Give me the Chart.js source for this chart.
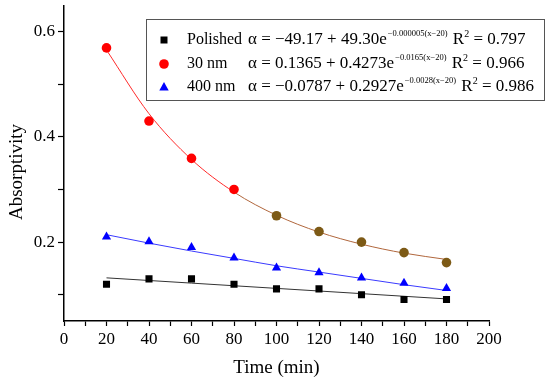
<!DOCTYPE html>
<html>
<head>
<meta charset="utf-8">
<script src="https://cdn.jsdelivr.net/npm/chart.js@4.4.1/dist/chart.umd.min.js"></script>
<style>
html, body { margin: 0; padding: 0; background: #fff; }
</style>
</head>
<body>
<canvas id="chart" width="550" height="383"></canvas>
<script>
// values
const times = [20, 40, 60, 80, 100, 120, 140, 160, 180];
const polished = [0.120, 0.130, 0.130, 0.120, 0.111, 0.111, 0.100, 0.091, 0.091];
const nm30 = [0.569, 0.430, 0.359, 0.300, 0.250, 0.220, 0.200, 0.180, 0.161];
const nm400 = [0.210, 0.201, 0.190, 0.170, 0.151, 0.142, 0.132, 0.122, 0.112];

// fitted curves at the same times
const polishedFit = [0.132, 0.127, 0.122, 0.117, 0.112, 0.107, 0.102, 0.097, 0.092];
const nm30Fit = [0.565, 0.444, 0.357, 0.295, 0.251, 0.219, 0.196, 0.179, 0.167];
const nm400Fit = [0.214, 0.198, 0.183, 0.169, 0.155, 0.143, 0.131, 0.119, 0.108];

const xTicks = [0, 10, 20, 30, 40, 50, 60, 70, 80, 90, 100, 110, 120, 130, 140, 150, 160, 170, 180, 190, 200];
const xLabels = [0, 20, 40, 60, 80, 100, 120, 140, 160, 180, 200];
const yTicks = [0.1, 0.2, 0.3, 0.4, 0.5, 0.6];
const yLabels = [0.2, 0.4, 0.6];

const seriesNames = ['Polished', '30 nm', '400 nm'];
const fitMain = ['\u03b1 = \u221249.17 + 49.30e', '\u03b1 = 0.1365 + 0.4273e', '\u03b1 = \u22120.0787 + 0.2927e'];
const fitExp = ['\u22120.000005(x\u221220)', '\u22120.0165(x\u221220)', '\u22120.0028(x\u221220)'];
const rSquared = ['0.797', '0.966', '0.986'];
const yTitle = 'Absorptivity';

const serif = "'Liberation Serif', 'Times New Roman', serif";

const pts = (ys) => times.map((t, i) => ({ x: t, y: ys[i] }));

// red points after 80 min look brownish in the picture
const redPointColors = nm30.map((v, i) => i < 4 ? '#ff0000' : '#7d5a16');

// legend drawn by hand because of the superscripts
const legendPlugin = {
    id: 'fitLegend',
    afterDraw(chart) {
        const ctx = chart.ctx;
        ctx.save();

        // y axis title sits a bit below the middle in the original
        ctx.translate(17, 172);
        ctx.rotate(-Math.PI / 2);
        ctx.fillStyle = '#000';
        ctx.font = '19px ' + serif;
        ctx.textAlign = 'center';
        ctx.textBaseline = 'middle';
        ctx.fillText(yTitle, 0, 0);
        ctx.setTransform(1, 0, 0, 1, 0, 0);
        ctx.textAlign = 'left';

        ctx.fillStyle = '#fff';
        ctx.fillRect(146, 19, 398, 81);
        ctx.strokeStyle = '#555';
        ctx.lineWidth = 1;
        ctx.strokeRect(146.5, 19.5, 398, 81);

        const rows = [40, 64, 87];
        const markers = ['rect', 'circle', 'triangle'];
        const colors = ['#000', '#ff0000', '#0000ff'];
        const big = '17px ' + serif;
        const small = '8.5px ' + serif;
        rows.forEach((y, i) => {
            drawMarker(ctx, markers[i], 164, y, colors[i]);
            ctx.fillStyle = '#000';
            ctx.font = '16px ' + serif;
            ctx.fillText(seriesNames[i], 187, y);
            ctx.font = big;
            let x = 248;
            ctx.fillText(fitMain[i], x, y);
            x += ctx.measureText(fitMain[i]).width;
            ctx.font = small;
            ctx.fillText(fitExp[i], x + 1, y - 6);
            x += ctx.measureText(fitExp[i]).width + 2;
            ctx.font = big;
            ctx.fillText(' R', x, y);
            x += ctx.measureText(' R').width;
            ctx.font = '10px ' + serif;
            ctx.fillText('2', x, y - 6);
            x += ctx.measureText('2').width;
            ctx.font = big;
            ctx.fillText(' = ' + rSquared[i], x, y);
        });
        ctx.restore();
    }
};

function drawMarker(ctx, style, x, y, color) {
    ctx.fillStyle = color;
    ctx.beginPath();
    if (style === 'rect') {
        ctx.rect(x - 3.5, y - 3.5, 7, 7);
    } else if (style === 'circle') {
        ctx.arc(x, y, 4.8, 0, Math.PI * 2);
    } else {
        ctx.moveTo(x, y - 5);
        ctx.lineTo(x + 4.7, y + 3.5);
        ctx.lineTo(x - 4.7, y + 3.5);
        ctx.closePath();
    }
    ctx.fill();
}

const fitLine = (ys, color, extra) => Object.assign({
    type: 'line',
    data: pts(ys),
    borderColor: color,
    borderWidth: 1,
    pointRadius: 0,
    cubicInterpolationMode: 'monotone',
    fill: false,
    order: 2
}, extra || {});

const scatterSet = (ys, style, color, radius) => ({
    type: 'scatter',
    data: pts(ys),
    pointStyle: style,
    pointRadius: radius,
    pointHoverRadius: radius,
    pointBackgroundColor: color,
    pointBorderColor: color,
    pointBorderWidth: 0,
    showLine: false,
    order: 1
});

new Chart(document.getElementById('chart'), {
    type: 'scatter',
    data: {
        datasets: [
            fitLine(polishedFit, '#333'),
            fitLine(nm30Fit, '#ff2a2a', {
                segment: { borderColor: c => c.p0DataIndex >= 3 ? '#b0663c' : '#ff2a2a' }
            }),
            fitLine(nm400Fit, '#3a3aff'),
            scatterSet(polished, 'rect', '#000', 5),
            scatterSet(nm30, 'circle', redPointColors, 4.8),
            scatterSet(nm400, 'triangle', '#0000ff', 5.3)
        ]
    },
    options: {
        responsive: false,
        animation: false,
        devicePixelRatio: 1,
        layout: { padding: { top: 5, right: 61, left: 0, bottom: 0 } },
        plugins: { legend: { display: false }, tooltip: { enabled: false } },
        scales: {
            x: {
                type: 'linear',
                min: 0,
                max: 200,
                afterBuildTicks: s => { s.ticks = xTicks.map(v => ({ value: v })); },
                afterFit: s => { s.height = 62; },
                ticks: {
                    autoSkip: false,
                    maxRotation: 0,
                    padding: 3,
                    color: '#000',
                    font: { family: serif, size: 17 },
                    callback: v => xLabels.includes(v) ? String(v) : ''
                },
                grid: { drawOnChartArea: false, tickLength: 5, tickColor: '#000', tickWidth: 1.2 },
                border: { color: '#000', width: 1.5 },
                title: {
                    display: true,
                    text: 'Time (min)',
                    color: '#000',
                    font: { family: serif, size: 19 },
                    padding: { top: 3, bottom: 4 }
                }
            },
            y: {
                type: 'linear',
                min: 0.05,
                max: 0.65,
                afterBuildTicks: s => { s.ticks = yTicks.map(v => ({ value: v })); },
                afterFit: s => {
                    s.width = 64;
                    s.paddingTop = 0;
                    s.paddingBottom = 0;
                },
                ticks: {
                    padding: 3,
                    color: '#000',
                    font: { family: serif, size: 17 },
                    callback: v => yLabels.some(l => Math.abs(l - v) < 1e-9) ? v.toFixed(1) : ''
                },
                grid: { drawOnChartArea: false, tickLength: 6, tickColor: '#000', tickWidth: 1.2 },
                border: { color: '#000', width: 1.5 },
                title: { display: false }
            }
        }
    },
    plugins: [legendPlugin]
});
</script>
</body>
</html>
